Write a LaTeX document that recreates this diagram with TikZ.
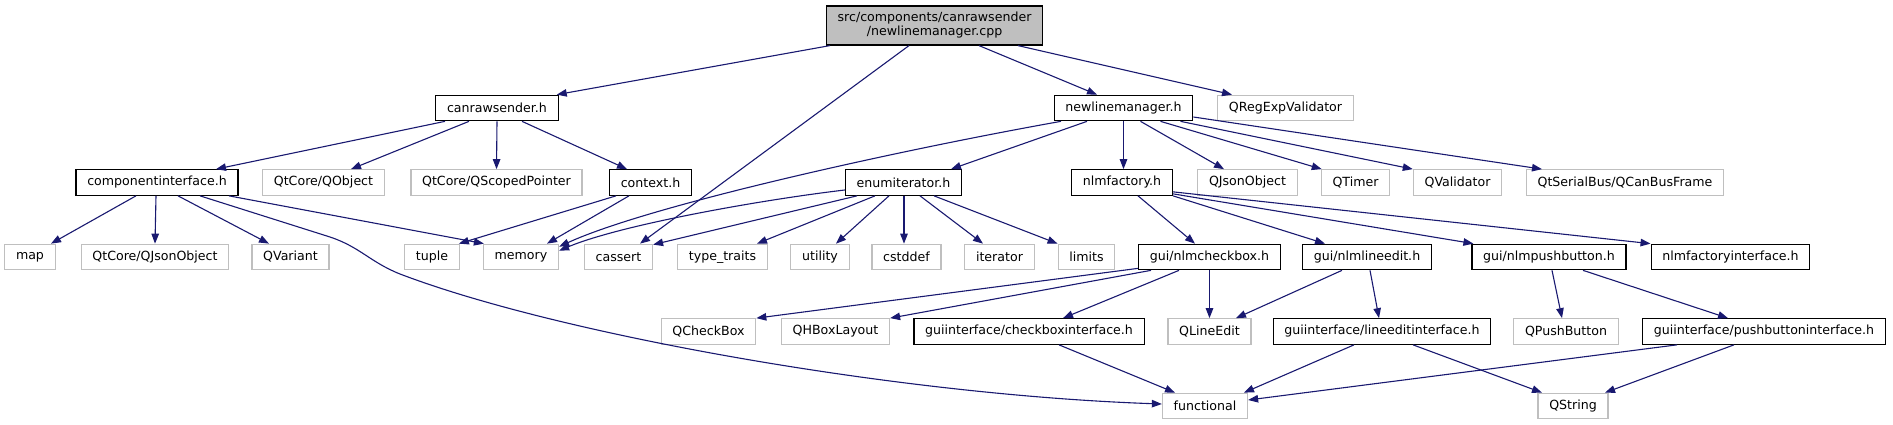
\documentclass[tikz,border=0pt]{standalone}
\usepackage{fontspec}
\setmainfont{DejaVu Sans}
\usetikzlibrary{arrows.meta}
\definecolor{edgec}{HTML}{191970}
\definecolor{grayb}{HTML}{BFBFBF}
\begin{document}
\begin{tikzpicture}[x=1pt,y=-1pt,
 box/.style={draw=black,line width=1.2pt,fill=white,rectangle,minimum height=25.5pt,inner xsep=11.2pt,inner ysep=0pt,font=\fontsize{12.6}{14}\selectfont},
 gbox/.style={box,draw=grayb},
 dep/.style={draw=edgec,line width=1.1pt,-{Triangle[length=10pt,width=7.5pt]}},
]
\useasboundingbox (0,0) rectangle (1893,425);
% row 1
\node[box,fill=grayb,minimum height=39pt,align=center] (root) at (934.5,25.5) {src/components/canrawsender\\/newlinemanager.cpp};
% row 2
\node[box] (cr) at (497,108) {canrawsender.h};
\node[box] (nm) at (1123.5,108) {newlinemanager.h};
\node[gbox] (qrev) at (1285.5,108) {QRegExpValidator};
% row 3
\node[box] (ci) at (157,182.5) {componentinterface.h};
\node[gbox] (qobj) at (323.5,182.5) {QtCore/QObject};
\node[gbox] (qsp) at (496.5,182.5) {QtCore/QScopedPointer};
\node[box] (ctx) at (650.5,182.5) {context.h};
\node[box] (enu) at (903.5,182.5) {enumiterator.h};
\node[box] (nf) at (1122,182.5) {nlmfactory.h};
\node[gbox] (qjo) at (1247.5,182.5) {QJsonObject};
\node[gbox] (qtimer) at (1355.5,182.5) {QTimer};
\node[gbox] (qval) at (1457.5,182.5) {QValidator};
\node[gbox] (qsb) at (1625,182.5) {QtSerialBus/QCanBusFrame};
% row 4
\node[gbox] (map) at (30,257) {map};
\node[gbox] (qcjo) at (155,257) {QtCore/QJsonObject};
\node[gbox] (qvar) at (290.5,257) {QVariant};
\node[gbox] (tuple) at (432,257) {tuple};
\node[gbox] (memory) at (521,257) {memory};
\node[gbox] (cassert) at (618.5,257) {cassert};
\node[gbox] (tt) at (722.5,257) {type\_traits};
\node[gbox] (utility) at (820,257) {utility};
\node[gbox] (cstddef) at (906.5,257) {cstddef};
\node[gbox] (iterator) at (999.5,257) {iterator};
\node[gbox] (limits) at (1086.5,257) {limits};
\node[box] (ncb) at (1209.5,257) {gui/nlmcheckbox.h};
\node[box] (nle) at (1367,257) {gui/nlmlineedit.h};
\node[box] (npb) at (1549,257) {gui/nlmpushbutton.h};
\node[box] (nfi) at (1730.5,257) {nlmfactoryinterface.h};
% row 5
\node[gbox] (qcb) at (708.5,331.5) {QCheckBox};
\node[gbox] (qhb) at (835.5,331.5) {QHBoxLayout};
\node[box] (cbi) at (1029,331.5) {guiinterface/checkboxinterface.h};
\node[gbox] (qle) at (1209.5,331.5) {QLineEdit};
\node[box] (lei) at (1382,331.5) {guiinterface/lineeditinterface.h};
\node[gbox] (qpb) at (1566,331.5) {QPushButton};
\node[box] (pbi) at (1764,331.5) {guiinterface/pushbuttoninterface.h};
% row 6
\node[gbox] (func) at (1205,406) {functional};
\node[gbox] (qstr) at (1573,406) {QString};
% edges
\draw[dep] ([xshift=-104.5]root.south) -- ([xshift=-2]cr.north east);
\draw[dep] ([xshift=-25.5]root.south) -- ([xshift=21.5]cassert.north);
\draw[dep] ([xshift=44.5]root.south) -- ([xshift=-26.5]nm.north);
\draw[dep] ([xshift=83.5]root.south) -- ([xshift=-53.5]qrev.north);
\draw[dep] ([xshift=-52]cr.south) -- ([xshift=59]ci.north);
\draw[dep] ([xshift=-28]cr.south) -- ([xshift=27.5]qobj.north);
\draw[dep] (cr.south) -- (qsp.north);
\draw[dep] ([xshift=25]cr.south) -- ([xshift=-23.5]ctx.north);
\draw[dep] ([xshift=-21]ci.south) -- ([xshift=21]map.north);
\draw[dep] ([xshift=-1]ci.south) -- (qcjo.north);
\draw[dep] ([xshift=21]ci.south) -- ([xshift=-21.5]qvar.north);
\draw[dep] ([xshift=43]ci.south) -- (330,237) .. controls (360,247) and (370,262) .. (400,274) .. controls (560,335) and (900,395) .. ([yshift=2]func.west);
\draw[dep] ([xshift=72]ci.south) -- ([xshift=1]memory.north west);
\draw[dep] ([xshift=-34.5]ctx.south) -- ([xshift=-1]tuple.north east);
\draw[dep] ([xshift=-21.5]ctx.south) -- ([xshift=26]memory.north);
\draw[dep] ([xshift=-62.5]nm.south) .. controls (900,150) and (650,205) .. ([yshift=-3]memory.north east);
\draw[dep] ([xshift=-36.5]nm.south) -- ([xshift=47.5]enu.north);
\draw[dep] (nm.south) -- ([xshift=1.5]nf.north);
\draw[dep] ([xshift=17]nm.south) -- ([xshift=-23.5]qjo.north);
\draw[dep] ([xshift=37]nm.south) -- ([xshift=1]qtimer.north west);
\draw[dep] ([xshift=57]nm.south) -- (qval.north west);
\draw[dep] ([yshift=-9]nm.east) -- ([xshift=-83]qsb.north);
\draw[dep] ([yshift=-7.5]enu.west) .. controls (760,200) and (620,225) .. ([yshift=-7]memory.north east);
\draw[dep] ([xshift=-46.5]enu.south) -- ([yshift=-1]cassert.north east);
\draw[dep] ([xshift=-28.5]enu.south) -- ([xshift=34.5]tt.north);
\draw[dep] ([xshift=-14.5]enu.south) -- ([xshift=16]utility.north);
\draw[dep] ([xshift=0.5]enu.south) -- ([xshift=-2.5]cstddef.north);
\draw[dep] ([xshift=16.5]enu.south) -- ([xshift=-16.5]iterator.north);
\draw[dep] ([xshift=30.5]enu.south) -- (limits.north west);
\draw[dep] ([xshift=16]nf.south) -- ([xshift=-14.5]ncb.north);
\draw[dep] (nf.south east) -- ([xshift=-42]nle.north);
\draw[dep] ([yshift=2]nf.south east) -- ([xshift=2]npb.north west);
\draw[dep] ([yshift=4]nf.south east) -- (nfi.north west);
\draw[dep] ([yshift=2]ncb.south west) -- (qcb.north east);
\draw[dep] ([xshift=-58.5]ncb.south) -- (qhb.north east);
\draw[dep] ([xshift=-30.5]ncb.south) -- ([xshift=34]cbi.north);
\draw[dep] (ncb.south) -- (qle.north);
\draw[dep] ([xshift=-25]nle.south) -- ([xshift=26.5]qle.north);
\draw[dep] ([xshift=3]nle.south) -- ([xshift=-3]lei.north);
\draw[dep] ([xshift=3]npb.south) -- ([xshift=-4]qpb.north);
\draw[dep] ([xshift=34]npb.south) -- ([xshift=-36]pbi.north);
\draw[dep] ([xshift=30]cbi.south) -- ([xshift=-30]func.north);
\draw[dep] ([xshift=-28]lei.south) -- ([xshift=39]func.north);
\draw[dep] ([xshift=31]lei.south) -- ([xshift=-31]qstr.north);
\draw[dep] ([xshift=-87]pbi.south) -- ([yshift=6]func.east);
\draw[dep] ([xshift=-30]pbi.south) -- ([xshift=32]qstr.north);
\end{tikzpicture}
\end{document}
